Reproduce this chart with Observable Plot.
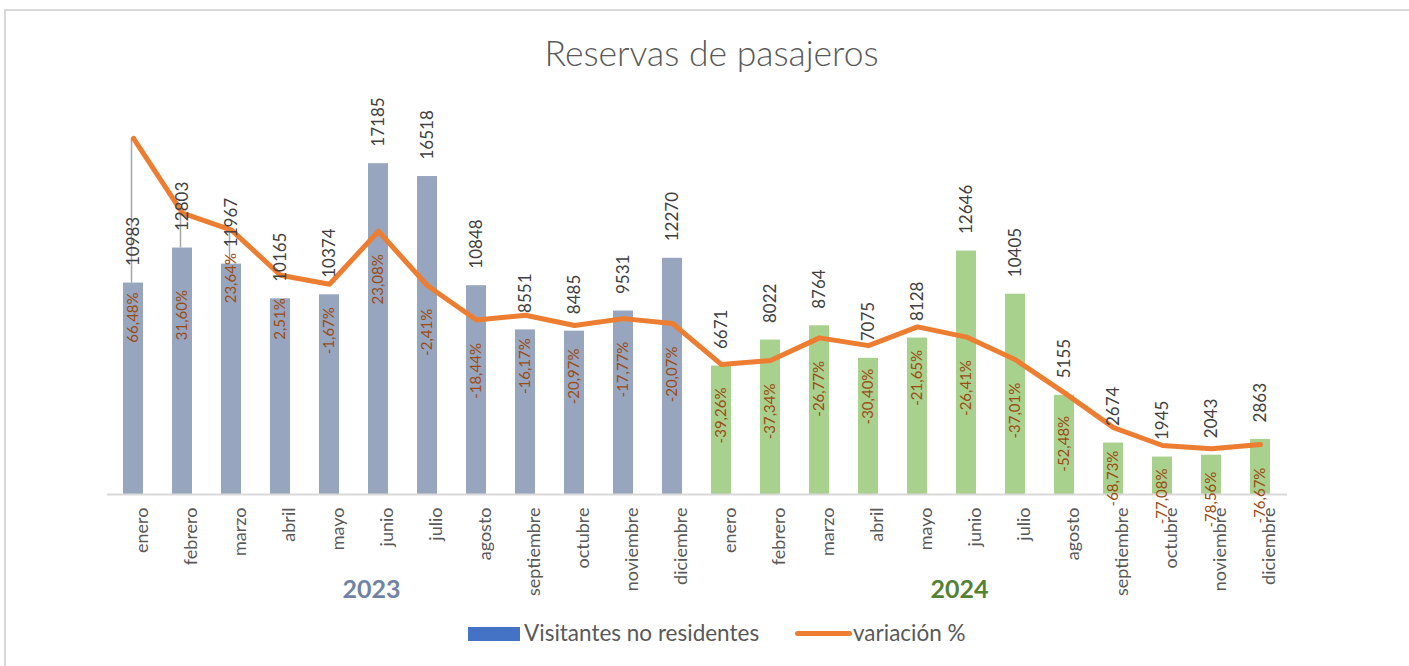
<!DOCTYPE html>
<html>
<head>
<meta charset="utf-8">
<script src="https://cdn.jsdelivr.net/npm/d3@7"></script>
<script src="https://cdn.jsdelivr.net/npm/@observablehq/plot@0.6"></script>
<style>
  html, body { margin: 0; padding: 0; background: #fff; }
  #wrap { position: relative; width: 1409px; height: 666px; overflow: hidden; font-family: Lato, "Open Sans", sans-serif; }
  #border { position: absolute; left: 4px; top: 9px; right: 0; bottom: 0; border-top: 2px solid #D9D9D9; border-left: 2px solid #D9D9D9; }
  #title { position: absolute; left: 0; top: 0; width: 1409px; height: 90px; text-align: center; box-sizing: border-box; padding-left: 14px; font-size: 35.5px; font-weight: 300; color: #595959; line-height: 106px; }
  #chart { position: absolute; left: 0; top: 90px; }
  #legend { position: absolute; left: 0; top: 615px; width: 1409px; height: 51px; font-size: 22.5px; color: #595959; }
  .sw { position: absolute; }
  .lt { position: absolute; top: 3px; line-height: 30px; }
</style>
</head>
<body>
<div id="wrap">
  <div id="border"></div>
  <div id="title">Reservas de pasajeros</div>
  <div id="chart"></div>
  <div id="legend">
    <div class="sw" style="left:468px; top:12px; width:52px; height:14px; background:#4472C4;"></div>
    <div class="lt" style="left:524px;">Visitantes no residentes</div>
    <div class="sw" style="left:795px; top:16px; width:57px; height:5px; border-radius:3px; background:#ED7D31;"></div>
    <div class="lt" style="left:853px;">variación %</div>
  </div>
</div>
<script>
const months = ["enero","febrero","marzo","abril","mayo","junio","julio","agosto","septiembre","octubre","noviembre","diciembre"];
const years = ["2023", "2024"];
const visitantes2023 = [10983, 12803, 11967, 10165, 10374, 17185, 16518, 10848, 8551, 8485, 9531, 12270];
const visitantes2024 = [6671, 8022, 8764, 7075, 8128, 12646, 10405, 5155, 2674, 1945, 2043, 2863];
const variacion2023 = [66.48, 31.60, 23.64, 2.51, -1.67, 23.08, -2.41, -18.44, -16.17, -20.97, -17.77, -20.07];
const variacion2024 = [-39.26, -37.34, -26.77, -30.40, -21.65, -26.41, -37.01, -52.48, -68.73, -77.08, -78.56, -76.67];

const visitantes = [visitantes2023, visitantes2024];
const variacion = [variacion2023, variacion2024];

const rows = years.flatMap((yr, yi) => months.map((m, mi) => ({
  key: `${m} ${yr}`, month: m, year: yr, value: visitantes[yi][mi], pct: variacion[yi][mi]
})));
const keys = rows.map(d => d.key);

// secondary axis (variación %) mapped onto the primary axis
const sec = d3.scaleLinear([-100, 80], [0, 20000]);
const fmtPct = v => v.toFixed(2).replace(".", ",") + "%";

// labels with leader lines / moved manually in the original
const leaderKeys = new Set(["enero 2023", "febrero 2023", "marzo 2023"]);
const pctLabelShift = {"enero 2023": 154, "febrero 2023": 77};

const font = "Lato, 'Open Sans', sans-serif";
const yearColor = {"2023": "#6F83A6", "2024": "#548235"};
const barColor = {"2023": "#97A6BE", "2024": "#A9D18E"};

const chart = Plot.plot({
  width: 1409,
  height: 525,
  marginTop: 19,
  marginBottom: 121,
  marginLeft: 107,
  marginRight: 122,
  style: {fontFamily: font, background: "transparent", overflow: "visible"},
  x: {type: "band", domain: keys, paddingInner: 0.59, paddingOuter: 0.295, align: 0.5, axis: null},
  y: {domain: [0, 20000], axis: null},
  marks: [
    ...years.map(yr => Plot.barY(rows.filter(d => d.year === yr), {x: "key", y: "value", fill: barColor[yr]})),
    Plot.ruleY([0], {stroke: "#D9D9D9", strokeWidth: 2}),
    Plot.ruleX(rows.filter(d => leaderKeys.has(d.key)), {
      x: "key", y1: d => sec(d.pct), y2: "value", stroke: "#A6A6A6", strokeWidth: 1.5, dx: -2
    }),
    Plot.line(rows, {x: "key", y: d => sec(d.pct), stroke: "#ED7D31", strokeWidth: 5, strokeLinejoin: "round", strokeLinecap: "round"}),
    Plot.text(rows, {
      x: "key", y: "value", text: d => String(d.value), rotate: -90, textAnchor: "start", dy: -17,
      fill: "#404040", fontSize: 17, fontFamily: font
    }),
    Plot.text(rows.filter(d => !(d.key in pctLabelShift)), {
      x: "key", y: d => sec(d.pct), text: d => fmtPct(d.pct), rotate: -90, textAnchor: "end", dy: 23,
      fill: "#9C4B13", fontSize: 15, fontFamily: font
    }),
    ...Object.entries(pctLabelShift).map(([k, shift]) => Plot.text(rows.filter(d => d.key === k), {
      x: "key", y: d => sec(d.pct), text: d => fmtPct(d.pct), rotate: -90, textAnchor: "end", dy: shift,
      fill: "#9C4B13", fontSize: 15, fontFamily: font
    })),
    Plot.text(rows, {
      x: "key", frameAnchor: "bottom", text: "month", rotate: -90, textAnchor: "end", dy: 13, dx: 14,
      fill: "#595959", fontSize: 18, fontFamily: font
    }),
    ...years.map(yr => Plot.text([yr], {
      x: d => `junio ${d}`, frameAnchor: "bottom", text: d => d, dy: 103, dx: -7,
      fill: yearColor[yr], fontSize: 25, fontWeight: "bold", fontFamily: font
    }))
  ]
});
document.getElementById("chart").appendChild(chart);
</script>
</body>
</html>
